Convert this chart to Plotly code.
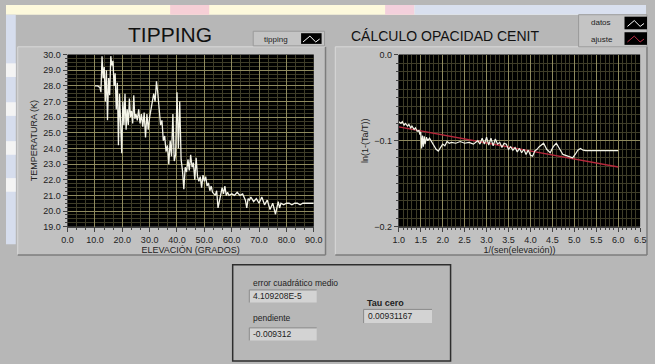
import plotly.graph_objects as go

W, H = 655, 364

# ---- tipping curve: brightness temperature (K) vs elevation (deg) ----
elev = [10.0, 11.0, 11.8, 12.2, 12.6, 13.0, 13.4, 13.8, 14.2, 14.6, 15.0, 15.4,
        15.8, 16.2, 16.6, 17.0, 17.4, 17.8, 18.2, 18.6, 19.0, 19.4, 19.8, 20.2,
        20.6, 21.0, 21.4, 21.8, 22.2, 22.6, 23.0, 23.4, 23.8, 24.2, 24.6, 25.0,
        25.5, 26.0, 26.5, 27.0, 27.5, 28.0, 28.5, 29.0, 29.5, 30.0, 30.5, 31.0,
        31.5, 32.0, 32.5, 33.0, 33.5, 34.0, 34.5, 35.0, 35.5, 36.0, 36.5, 37.0,
        37.5, 38.0, 38.5, 39.0, 39.5, 40.0, 40.5, 41.0, 41.5, 42.0, 42.5, 43.0,
        43.5, 44.0, 44.5, 45.0, 45.5, 46.0, 46.5, 47.0, 47.5, 48.0, 48.5, 49.0,
        49.5, 50.0, 50.5, 51.0, 51.5, 52.0, 52.5, 53.0, 54.0, 54.5, 55.0, 56.0,
        56.5, 57.0, 57.5, 58.0, 58.5, 59.0, 60.0, 61.0, 62.0, 63.0, 64.0, 65.0,
        65.5, 66.0, 66.5, 67.0, 68.0, 69.0, 70.0, 71.0, 72.0, 73.0, 74.0, 75.0,
        76.0, 77.0, 77.5, 78.0, 79.0, 80.0, 81.0, 82.0, 83.0, 84.0, 85.0, 86.0,
        87.0, 88.0, 89.0, 90.0]
temp = [28.0, 28.0, 27.9, 27.6, 29.9, 28.5, 29.2, 27.0, 29.0, 25.8, 28.5, 27.4,
        29.9, 29.3, 29.6, 28.0, 28.8, 26.5, 28.2, 24.2, 27.5, 25.0, 23.7, 27.0,
        25.5, 27.5, 25.2, 26.5, 25.5, 27.2, 26.0, 26.4, 25.6, 27.4, 25.9, 26.2,
        25.8, 26.5, 25.6, 26.2, 25.4, 26.3, 24.7, 26.2, 25.2, 26.0, 26.5, 26.8,
        27.5, 27.0, 28.3, 27.5, 26.5, 25.5, 25.8, 24.5, 24.8, 23.8, 24.2, 23.0,
        24.5, 23.5, 26.2, 23.2, 23.6, 27.6, 24.0, 27.0, 23.3, 22.6, 21.4, 22.8,
        22.5, 23.3, 22.6, 23.6, 22.8, 23.1, 22.0, 23.4, 22.2, 21.9, 22.2, 21.5,
        22.3, 21.9, 22.2, 21.6, 21.8, 21.3, 21.6, 21.2, 21.0, 21.3, 20.2, 21.0,
        21.5, 21.1, 21.6, 21.0, 21.2, 21.0, 21.1, 21.0, 21.2, 21.0, 21.1, 20.7,
        20.2, 20.8, 20.7, 20.9, 20.6, 20.8, 20.5, 20.9, 20.4, 20.7, 20.1, 20.5,
        19.8, 20.6, 20.2, 20.5, 20.4, 20.5, 20.5, 20.4, 20.5, 20.5, 20.4, 20.5,
        20.5, 20.5, 20.5, 20.5]

# ---- zenith opacity: ln(1-(Ta/T)) vs air mass 1/sin(elev) ----
airmass = [1.00, 1.05, 1.08, 1.12, 1.15, 1.20, 1.23, 1.27, 1.30, 1.35, 1.38, 1.42,
           1.46, 1.48, 1.50, 1.52, 1.54, 1.56, 1.58, 1.60, 1.63, 1.66, 1.70, 1.75,
           1.80, 1.85, 1.90, 1.95, 2.00, 2.05, 2.10, 2.15, 2.20, 2.30, 2.40, 2.50,
           2.60, 2.70, 2.80, 2.85, 2.90, 2.95, 3.00, 3.05, 3.10, 3.15, 3.20, 3.25,
           3.30, 3.35, 3.40, 3.45, 3.50, 3.55, 3.60, 3.65, 3.70, 3.75, 3.80, 3.85,
           3.90, 3.95, 4.00, 4.05, 4.10, 4.15, 4.20, 4.30, 4.37, 4.45, 4.52, 4.59,
           4.66, 4.74, 4.85, 4.96, 5.02, 5.08, 5.14, 5.20, 5.26, 6.00]
ln_ratio = [-0.078, -0.080, -0.078, -0.082, -0.080, -0.083, -0.081, -0.085, -0.083,
            -0.087, -0.085, -0.089, -0.088, -0.093, -0.090, -0.109, -0.094, -0.107,
            -0.095, -0.104, -0.096, -0.100, -0.097, -0.101, -0.106, -0.110, -0.112,
            -0.108, -0.104, -0.106, -0.101, -0.103, -0.102, -0.103, -0.101, -0.103,
            -0.102, -0.104, -0.100, -0.104, -0.097, -0.104, -0.096, -0.105, -0.097,
            -0.106, -0.098, -0.104, -0.102, -0.108, -0.103, -0.104, -0.110, -0.107,
            -0.111, -0.108, -0.113, -0.109, -0.114, -0.110, -0.116, -0.111, -0.117,
            -0.118, -0.112, -0.110, -0.107, -0.103, -0.110, -0.114, -0.107, -0.103,
            -0.109, -0.116, -0.118, -0.120, -0.116, -0.111, -0.109, -0.111, -0.1115,
            -0.1115]

# linear fit results shown in the indicators
mse_value = "4.109208E-5"
slope = -0.009312
intercept = -0.0747
tau_zero = "0.00931167"
fit_x = [1.0, 6.0]
fit_y = [intercept + slope * v for v in fit_x]

FONT = "Liberation Sans"
PANEL = "#b7b7b7"
FRAME = "#c1c1c1"
MAJOR = "#8f8a5e"
MINOR = "#3e3c28"


def px(x):
    return x / W


def py(y):
    return 1 - y / H


fig = go.Figure()
fig.add_trace(go.Scatter(x=elev, y=temp, mode="lines", xaxis="x", yaxis="y",
                         line=dict(color="#f4f4e8", width=1.3), showlegend=False))
fig.add_trace(go.Scatter(x=fit_x, y=fit_y, mode="lines", xaxis="x2", yaxis="y2",
                         line=dict(color="#b8283c", width=1.4), showlegend=False))
fig.add_trace(go.Scatter(x=airmass, y=ln_ratio, mode="lines", xaxis="x2", yaxis="y2",
                         line=dict(color="#f4f4e8", width=1.2), showlegend=False))

axis_common = dict(showgrid=True, gridcolor=MAJOR, gridwidth=1, zeroline=False,
                   showline=True, linecolor="#444444", linewidth=1,
                   ticks="outside", ticklen=4, tickcolor="#444444",
                   tickfont=dict(family=FONT, size=9, color="#222222"),
                   tickformat=".1f", fixedrange=True)

fig.update_layout(
    width=W, height=H, margin=dict(l=0, r=0, t=0, b=0),
    paper_bgcolor=PANEL, plot_bgcolor="#000000",
    font=dict(family=FONT, color="#222222"),
    xaxis=dict(domain=[px(63), px(315)], range=[0, 90], dtick=10, anchor="y",
               minor=dict(dtick=10 / 3, showgrid=True, gridcolor=MINOR,
                          ticks="outside", ticklen=2, tickcolor="#444444"),
               title=dict(text="ELEVACIÓN (GRADOS)", font=dict(size=9), standoff=2),
               **axis_common),
    yaxis=dict(domain=[py(228), py(51)], range=[19, 30], dtick=1, anchor="x",
               minor=dict(dtick=0.25, showgrid=True, gridcolor=MINOR,
                          ticks="outside", ticklen=2, tickcolor="#444444"),
               title=dict(text="TEMPERATURA (K)", font=dict(size=9), standoff=4),
               **axis_common),
    xaxis2=dict(domain=[px(402), px(649)], range=[1, 6.5], dtick=0.5, anchor="y2",
                minor=dict(dtick=0.1, showgrid=True, gridcolor=MINOR,
                           ticks="outside", ticklen=2, tickcolor="#444444"),
                title=dict(text="1/(sen(elevación))", font=dict(size=9), standoff=2),
                **axis_common),
    yaxis2=dict(domain=[py(228), py(51)], range=[-0.2, 0.0], dtick=0.1, anchor="x2",
                minor=dict(dtick=0.01, showgrid=True, gridcolor=MINOR,
                           ticks="outside", ticklen=2, tickcolor="#444444"),
                title=dict(text="ln(1-(Ta/T))", font=dict(size=9), standoff=4),
                **axis_common),
)

shapes = []


def rect(x0, y0, x1, y1, fill, line=None, lw=0, layer="below"):
    shapes.append(dict(type="rect", xref="paper", yref="paper",
                       x0=px(x0), x1=px(x1), y0=py(y1), y1=py(y0),
                       fillcolor=fill, layer=layer,
                       line=dict(color=line or fill, width=lw)))


def hline(x0, x1, y, color, lw=1):
    shapes.append(dict(type="line", xref="paper", yref="paper", x0=px(x0), x1=px(x1),
                       y0=py(y), y1=py(y), line=dict(color=color, width=lw), layer="below"))


def vline(x, y0, y1, color, lw=1):
    shapes.append(dict(type="line", xref="paper", yref="paper", x0=px(x), x1=px(x),
                       y0=py(y0), y1=py(y1), line=dict(color=color, width=lw), layer="below"))


# desktop backdrop around the front panel
rect(0, 0, 655, 10, "#fdf9dc")
rect(168, 0, 208, 10, "#f6cfd6")
rect(388, 0, 418, 10, "#f3d0dc")
rect(418, 0, 655, 10, "#d9e0ef")
rect(0, 10, 10, 246, "#d6dded")
for yb in (60, 100, 140, 178):
    rect(0, yb, 10, yb + 14, "#f4f4f4")

# graph frames
for fx0, fx1 in ((12, 327), (337, 656)):
    rect(fx0, 43, fx1, 257, FRAME)
    hline(fx0, fx1, 43, "#d9d9d9")
    vline(fx0, 43, 257, "#d9d9d9")
    hline(fx0, fx1, 257, "#7c7c7c", 1.5)
    vline(fx1, 43, 257, "#7c7c7c", 1.5)

# black plotting areas
rect(63, 51, 315, 228, "#000000")
rect(402, 51, 649, 228, "#000000")

# legend: tipping
rect(253, 27, 326, 42, "#c4c4c4", "#9a9a9a", 1)
rect(302, 29, 323, 40, "#000000")
# legend: datos / ajuste
rect(586, 10, 656, 43, "#c4c4c4", "#9a9a9a", 1)
rect(633, 12, 656, 25, "#000000")
rect(633, 28, 656, 41, "#000000")


def wave(x0, y0, color):
    pts = [(x0 + 2, y0 + 8), (x0 + 9, y0 + 2), (x0 + 15, y0 + 8), (x0 + 19, y0 + 5)]
    path = "M " + " L ".join(f"{px(a)},{py(b)}" for a, b in pts)
    shapes.append(dict(type="path", xref="paper", yref="paper", path=path,
                       line=dict(color=color, width=1), layer="above"))


wave(302, 30, "#ffffff")
wave(634, 14, "#ffffff")
wave(634, 30, "#c0304a")

# indicator box
rect(232, 267, 455, 366, PANEL, "#2e2e2e", 1.5)
for bx0, by0, bx1, by1 in ((249, 293, 318, 306), (249, 332, 318, 345), (366, 313, 436, 327)):
    rect(bx0, by0, bx1, by1, "#d3d3d3")
    hline(bx0, bx1, by0, "#8a8a8a")
    vline(bx0, by0, by1, "#8a8a8a")

fig.update_layout(shapes=shapes)

ann = []


def text(x, y, s, size=9, anchor="left", bold=False, color="#222222"):
    ann.append(dict(xref="paper", yref="paper", x=px(x), y=py(y), text=f"<b>{s}</b>" if bold else s,
                    showarrow=False, xanchor=anchor, yanchor="middle",
                    font=dict(family=FONT, size=size, color=color)))


text(168, 30, "TIPPING", size=21, anchor="center", color="#111111")
text(449, 32, "CÁLCULO OPACIDAD CENIT", size=14, anchor="center", color="#111111")
text(262, 35, "tipping", size=8)
text(597, 18, "datos", size=8)
text(597, 35, "ajuste", size=8)
text(251, 286, "error cuadrático medio", size=8.5)
text(251, 299.5, mse_value, size=8.5)
text(251, 322, "pendiente", size=8.5)
text(251, 338.5, f"{slope}", size=8.5)
text(367, 306, "Tau cero", size=9, bold=True)
text(368, 320, tau_zero, size=8.5)

fig.update_layout(annotations=ann)
fig.write_html("out.html")
